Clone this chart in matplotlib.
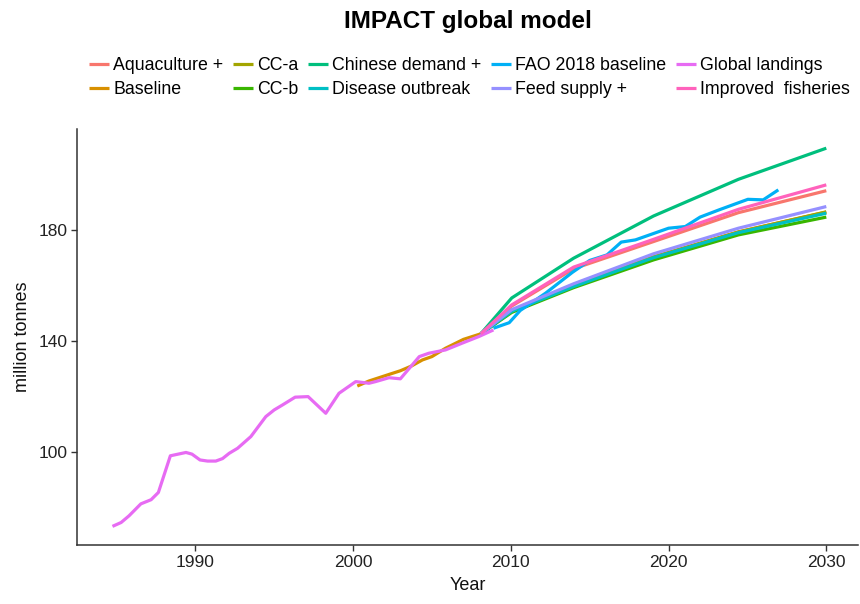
import matplotlib
matplotlib.use('Agg')
import matplotlib.pyplot as plt

plt.rcParams['font.family'] = ['Liberation Sans', 'DejaVu Sans']

# ggplot default hue palette, one colour per series
colors = {
    'Aquaculture +': '#F8766D',
    'Baseline': '#D89000',
    'CC-a': '#A3A500',
    'CC-b': '#39B600',
    'Chinese demand +': '#00BF7D',
    'Disease outbreak': '#00BFC4',
    'FAO 2018 baseline': '#00B0F6',
    'Feed supply +': '#9590FF',
    'Global landings': '#E76BF3',
    'Improved  fisheries': '#FF62BC',
}

# historical landings
landings_years = [1984.75, 1985.3, 1985.8, 1986.55, 1987.2, 1987.66, 1988.42, 1989.41,
                  1989.79, 1990.3, 1990.78, 1991.3, 1991.73, 1992.15, 1992.68, 1993.52,
                  1994.47, 1995.0, 1995.53, 1996.33, 1997.15, 1998.27, 1999.11, 2000.17,
                  2001.01, 2001.43, 2002.28, 2003.0, 2004.2, 2004.8, 2005.86, 2006.9,
                  2007.97, 2008.9]
landings_vals = [73.3, 74.7, 77.1, 81.4, 82.9, 85.5, 98.7, 99.9,
                 99.3, 97.2, 96.8, 96.8, 97.7, 99.6, 101.4, 105.6,
                 112.8, 115.2, 117.0, 119.8, 120.0, 114.0, 121.2, 125.4,
                 124.8, 125.4, 126.8, 126.4, 134.4, 135.6, 136.8, 139.2,
                 141.6, 144.0]

# baseline, from 2000 on
baseline_years = [2000.27, 2001.0, 2002.4, 2003.0, 2003.7, 2004.4, 2005.0, 2005.86,
                  2007.0, 2008.1, 2010.06, 2013.98, 2019.05, 2024.43, 2030.0]
baseline_vals = [123.8, 125.6, 128.2, 129.3, 131.0, 133.2, 134.4, 137.4,
                 140.6, 142.6, 151.0, 159.8, 170.3, 179.3, 186.4]

# scenario projections
scen_years = [2008.1, 2010.06, 2013.98, 2019.05, 2024.43, 2030.0]
aquaculture = [142.6, 152.6, 166.0, 175.8, 186.2, 194.1]
cc_a = [142.6, 150.8, 159.7, 170.2, 179.2, 186.5]
cc_b = [142.6, 150.3, 159.2, 169.2, 178.2, 184.6]
chinese = [142.6, 155.5, 169.8, 185.0, 198.2, 209.4]
disease = [142.6, 150.7, 159.6, 170.0, 179.0, 186.0]
feed = [142.6, 151.3, 160.6, 171.4, 180.6, 188.4]
fisheries = [142.6, 153.0, 166.6, 176.6, 187.4, 196.2]

# FAO 2018 baseline
fao_years = [2008.9, 2009.9, 2010.6, 2012.2, 2013.9, 2015.0, 2016.1, 2017.0,
             2017.9, 2020.0, 2021.06, 2022.0, 2023.2, 2025.03, 2026.0, 2026.96]
fao_vals = [144.6, 146.6, 151.0, 157.2, 164.7, 169.0, 171.0, 175.6,
            176.4, 180.6, 181.2, 184.6, 187.2, 191.0, 190.8, 194.4]

series = [
    ('Aquaculture +', scen_years, aquaculture),
    ('Baseline', baseline_years, baseline_vals),
    ('CC-a', scen_years, cc_a),
    ('CC-b', scen_years, cc_b),
    ('Chinese demand +', scen_years, chinese),
    ('Disease outbreak', scen_years, disease),
    ('FAO 2018 baseline', fao_years, fao_vals),
    ('Feed supply +', scen_years, feed),
    ('Global landings', landings_years, landings_vals),
    ('Improved  fisheries', scen_years, fisheries),
]

fig = plt.figure(figsize=(8.6, 6.04), dpi=100)
ax = fig.add_axes([0.0895, 0.0977, 0.908, 0.6887])

for name, xs, ys in series:
    ax.plot(xs, ys, color=colors[name], linewidth=2.3, label=name,
            solid_capstyle='butt', solid_joinstyle='round')

ax.set_xlim(1982.5, 2032.0)
ax.set_ylim(66.6, 216.3)
ax.set_xticks([1990, 2000, 2010, 2020, 2030])
ax.set_yticks([100, 140, 180])

# classic theme: only left and bottom axis lines
for side in ['top', 'right']:
    ax.spines[side].set_visible(False)
for side in ['left', 'bottom']:
    ax.spines[side].set_color('#333333')
    ax.spines[side].set_linewidth(1.1)
ax.tick_params(direction='out', length=4, width=1.0, color='#333333',
               labelsize=12.5, labelcolor='#222222', pad=3)

ax.set_xlabel('Year', fontsize=13, color='#111111', labelpad=5)
ax.set_ylabel('million tonnes', fontsize=13, color='#111111', labelpad=5)

fig.text(0.544, 0.964, 'IMPACT global model', ha='center', va='center',
         fontsize=17.5, fontweight='bold')

fig.legend(loc='center', bbox_to_anchor=(0.546, 0.872), ncol=5, frameon=False,
           fontsize=12.8, handlelength=1.1, handletextpad=0.25, columnspacing=0.55,
           labelspacing=0.4, borderaxespad=0)

fig.savefig('out.png', dpi=100, facecolor='white')
plt.close(fig)
